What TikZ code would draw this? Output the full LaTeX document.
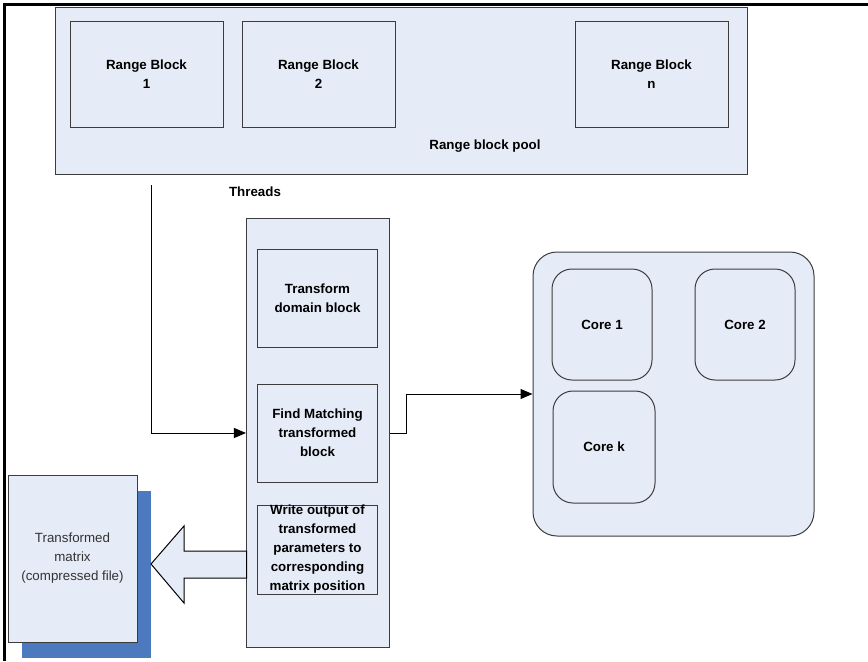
\documentclass[tikz,border=0pt]{standalone}
\usepackage{fontspec}
\setmainfont{Liberation Sans}
\usetikzlibrary{positioning,arrows.meta,shadows}
\definecolor{boxfill}{RGB}{230,236,247}
\definecolor{boxline}{RGB}{60,60,60}
\definecolor{docshade}{RGB}{77,122,190}
\definecolor{doctext}{RGB}{50,50,50}
\tikzset{
  lbl/.style={font=\fontsize{10}{14.25}\selectfont\bfseries, align=center},
  block/.style={lbl, draw=boxline, fill=boxfill, line width=0.75pt, inner sep=0pt},
  rblock/.style={block, minimum width=114.75pt, minimum height=79.5pt},
  tblock/.style={block, minimum width=90pt, minimum height=73.5pt},
  core/.style={block, rounded corners=15pt, minimum width=75pt, minimum height=83.25pt},
  flow/.style={draw=black, line width=0.75pt, -{Triangle[length=9pt,width=7.5pt]}},
}
\begin{document}
\begin{tikzpicture}[x=0.75pt, y=-0.75pt]
                \useasboundingbox (0,0) rectangle (868,661);
                \draw[line width=2.25pt] (4.5,661) -- (4.5,4.5) -- (868,4.5);

                \node[block, minimum width=519pt, minimum height=125.25pt] (pool) at (401,90.5) {};
                \node[rblock] (rb1) at (146.5,74) {Range Block\\1};
                \node[rblock] (rb2) [right=13.5pt of rb1] {Range Block\\2};
                \node[rblock] (rbn) at (651.5,74) {Range Block\\n};
                \node[lbl] (poollbl) at (485,146) {Range block pool};
                \node[lbl] (thrlbl) at (255,192) {Threads};

                \node[block, minimum width=106.9pt, minimum height=322pt] (threads) at (317.75,433.25) {};
                \node[tblock] (tdb) at (317.5,298) {Transform\\domain block};
                \node[tblock] (fmt) [below=27pt of tdb] {Find Matching\\transformed\\block};
                \node[tblock, minimum height=66.75pt] (wout) [below=16.5pt of fmt] {Write output of\\transformed\\parameters to\\corresponding\\matrix position};

                \node[block, rounded corners=18pt, minimum width=210.75pt, minimum height=213pt] (cores) at (673.5,394) {};
                \node[core] (core1) at (602,324.5) {Core 1};
                \node[core] (core2) [right=31.5pt of core1] {Core 2};
                \node[core, minimum width=76.5pt, minimum height=84pt] (corek) at (604,447) {Core k};

                \node[draw=boxline, fill=boxfill, line width=0.75pt, align=center, text=doctext,
                      font=\fontsize{10}{14.25}\selectfont, minimum width=96.75pt, minimum height=125.25pt,
                      drop shadow={shadow xshift=10.5pt, shadow yshift=-12pt, fill=docshade, opacity=1}]
                      (tmat) at (72.5,558.5) {Transformed\\matrix\\(compressed file)};

                \coordinate (tstart) at (151,185);
                \coordinate (wtip) at (151,564);

                \draw[flow] (tstart) |- (threads.west |- fmt.west);
                \draw[flow] (threads.east |- fmt.east) -- ++(17,0) |- (cores.west);
                \filldraw[draw=black, fill=boxfill, line width=0.75pt] (wtip) -- ++(33,-38) -- ++(0,25) -- ++(62.5,0)
                    -- ++(0,27) -- ++(-62.5,0) -- ++(0,25) -- cycle;
            \end{tikzpicture}
\end{document}
